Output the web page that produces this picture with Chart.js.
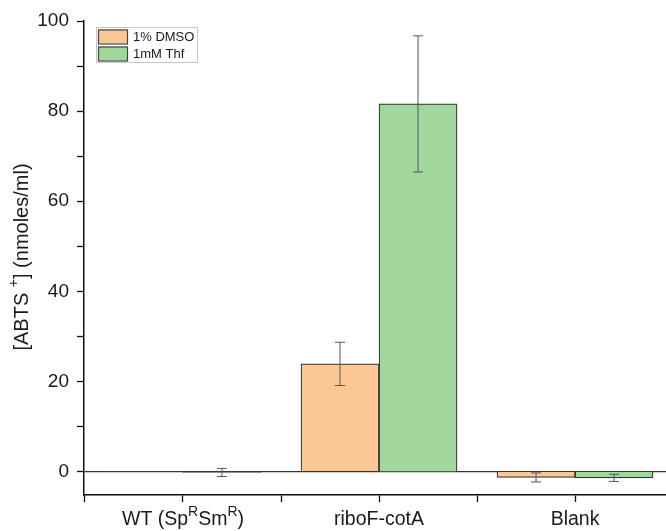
<!DOCTYPE html>
<html>
<head>
<meta charset="utf-8">
<script src="https://cdn.jsdelivr.net/npm/chart.js@4/dist/chart.umd.min.js"></script>
<style>
  html, body { margin: 0; padding: 0; background: #fff; }
  #wrap { width: 666px; height: 531px; }
</style>
</head>
<body>
<div id="wrap"><canvas id="grafica"></canvas></div>
<script>
// strains on the x axis (x = 0, 1, 2)
const categories = ['WT (Sp^RSm^R)', 'riboF-cotA', 'Blank'];
const seriesNames = ['1% DMSO', '1mM Thf'];
const dmsoValues = [-0.1, 23.9, -1.3];
const dmsoErrors = [0, 4.8, 1.0];
const thfValues = [-0.2, 81.6, -1.4];
const thfErrors = [0.9, 15.1, 0.8];
const yTicks = [0, 20, 40, 60, 80, 100];

const FONT = '"Liberation Sans", Arial, sans-serif';
const fillColors = ['#fbc795', '#a0d89b'];

function toPoints(values, errors) {
  return values.map((v, i) => ({ x: i, y: v, err: errors[i] }));
}

// zero line across the plot
const zeroLine = {
  id: 'zeroLine',
  beforeDatasetsDraw(chart) {
    const { ctx, chartArea, scales } = chart;
    const y = scales.y.getPixelForValue(0);
    ctx.save();
    ctx.strokeStyle = '#333';
    ctx.lineWidth = 1.3;
    ctx.beginPath();
    ctx.moveTo(chartArea.left, y);
    ctx.lineTo(chartArea.right, y);
    ctx.stroke();
    ctx.restore();
  }
};

// error bars with caps
const errorBars = {
  id: 'errorBars',
  afterDatasetsDraw(chart) {
    const { ctx, scales } = chart;
    ctx.save();
    ctx.strokeStyle = '#555';
    ctx.lineWidth = 1;
    chart.data.datasets.forEach((ds, di) => {
      const meta = chart.getDatasetMeta(di);
      meta.data.forEach((bar, i) => {
        const p = ds.data[i];
        if (!p.err) return;
        const x = bar.x;
        const top = scales.y.getPixelForValue(p.y + p.err);
        const bot = scales.y.getPixelForValue(p.y - p.err);
        ctx.beginPath();
        ctx.moveTo(x, top); ctx.lineTo(x, bot);
        ctx.moveTo(x - 5, top); ctx.lineTo(x + 5, top);
        ctx.moveTo(x - 5, bot); ctx.lineTo(x + 5, bot);
        ctx.stroke();
      });
    });
    ctx.restore();
  }
};

// draws "a^Rb" style text with superscripts, centered at cx
function drawRich(ctx, text, cx, cy, size) {
  const parts = [];
  const re = /\^(.)/g;
  let last = 0, m;
  while ((m = re.exec(text)) !== null) {
    if (m.index > last) parts.push({ t: text.slice(last, m.index), sup: false });
    parts.push({ t: m[1], sup: true });
    last = re.lastIndex;
  }
  if (last < text.length) parts.push({ t: text.slice(last), sup: false });
  const supSize = Math.round(size * 0.7);
  let total = 0;
  parts.forEach(p => {
    ctx.font = (p.sup ? supSize : size) + 'px ' + FONT;
    p.w = ctx.measureText(p.t).width;
    total += p.w;
  });
  let x = cx - total / 2;
  ctx.textAlign = 'left';
  ctx.textBaseline = 'middle';
  parts.forEach(p => {
    ctx.font = (p.sup ? supSize : size) + 'px ' + FONT;
    ctx.fillText(p.t, x, p.sup ? cy - size * 0.38 : cy);
    x += p.w;
  });
}

// category names, y title and boxed legend
const annotations = {
  id: 'annotations',
  afterDraw(chart) {
    const { ctx, chartArea, scales } = chart;
    ctx.save();
    ctx.fillStyle = '#1a1a1a';
    categories.forEach((c, i) => {
      drawRich(ctx, c, scales.x.getPixelForValue(i), 520, 19.5);
    });

    ctx.save();
    ctx.translate(22, 257);
    ctx.rotate(-Math.PI / 2);
    drawRich(ctx, '[ABTS ^+] (nmoles/ml)', 0, 0, 20);
    ctx.restore();

    const lx = chartArea.left + 12, ly = 27;
    ctx.fillStyle = '#fff';
    ctx.fillRect(lx, ly, 101, 35);
    ctx.strokeStyle = '#c8c8c8';
    ctx.lineWidth = 1;
    ctx.strokeRect(lx + 0.5, ly + 0.5, 101, 35);
    seriesNames.forEach((name, i) => {
      const sy = ly + 2.5 + i * 17;
      ctx.fillStyle = fillColors[i];
      ctx.fillRect(lx + 2, sy, 29, 14);
      ctx.strokeStyle = '#444';
      ctx.lineWidth = 1.2;
      ctx.strokeRect(lx + 2.5, sy + 0.5, 29, 14);
      ctx.fillStyle = '#1a1a1a';
      ctx.font = '13px ' + FONT;
      ctx.textAlign = 'left';
      ctx.textBaseline = 'middle';
      ctx.fillText(name, lx + 37, sy + 7.5);
    });
    ctx.restore();
  }
};

const ctx = document.getElementById('grafica').getContext('2d');
new Chart(ctx, {
  type: 'bar',
  data: {
    datasets: [
      {
        label: seriesNames[0],
        data: toPoints(dmsoValues, dmsoErrors),
        backgroundColor: fillColors[0],
        borderColor: '#333',
        borderWidth: 1.2
      },
      {
        label: seriesNames[1],
        data: toPoints(thfValues, thfErrors),
        backgroundColor: fillColors[1],
        borderColor: '#333',
        borderWidth: 1.2
      }
    ]
  },
  options: {
    responsive: true,
    maintainAspectRatio: false,
    animation: false,
    layout: { padding: { top: 21, right: 0, bottom: 0, left: 0 } },
    datasets: { bar: { barThickness: 78 } },
    plugins: { legend: { display: false }, tooltip: { enabled: false } },
    scales: {
      x: {
        type: 'linear',
        min: -0.505,
        max: 2.464,
        offset: false,
        afterFit(scale) { scale.height = 36; },
        border: { display: true, color: '#111', width: 1.5 },
        grid: { display: true, offset: false, drawOnChartArea: false, drawTicks: true, tickLength: 7, tickColor: '#111', tickWidth: 1.3 },
        ticks: {
          stepSize: 0.5,
          includeBounds: false,
          callback: () => ''
        }
      },
      y: {
        min: -5.2,
        max: 100,
        afterFit(scale) { scale.width = 84; },
        border: { display: true, color: '#111', width: 1.5 },
        grid: { display: true, drawOnChartArea: false, drawTicks: true, tickLength: 7, tickColor: '#111', tickWidth: 1.3 },
        ticks: {
          stepSize: 10,
          includeBounds: false,
          padding: 8,
          color: '#1a1a1a',
          font: { family: FONT, size: 19 },
          callback: v => (yTicks.includes(v) ? String(v) : '')
        }
      }
    }
  },
  plugins: [zeroLine, errorBars, annotations]
});
</script>
</body>
</html>
